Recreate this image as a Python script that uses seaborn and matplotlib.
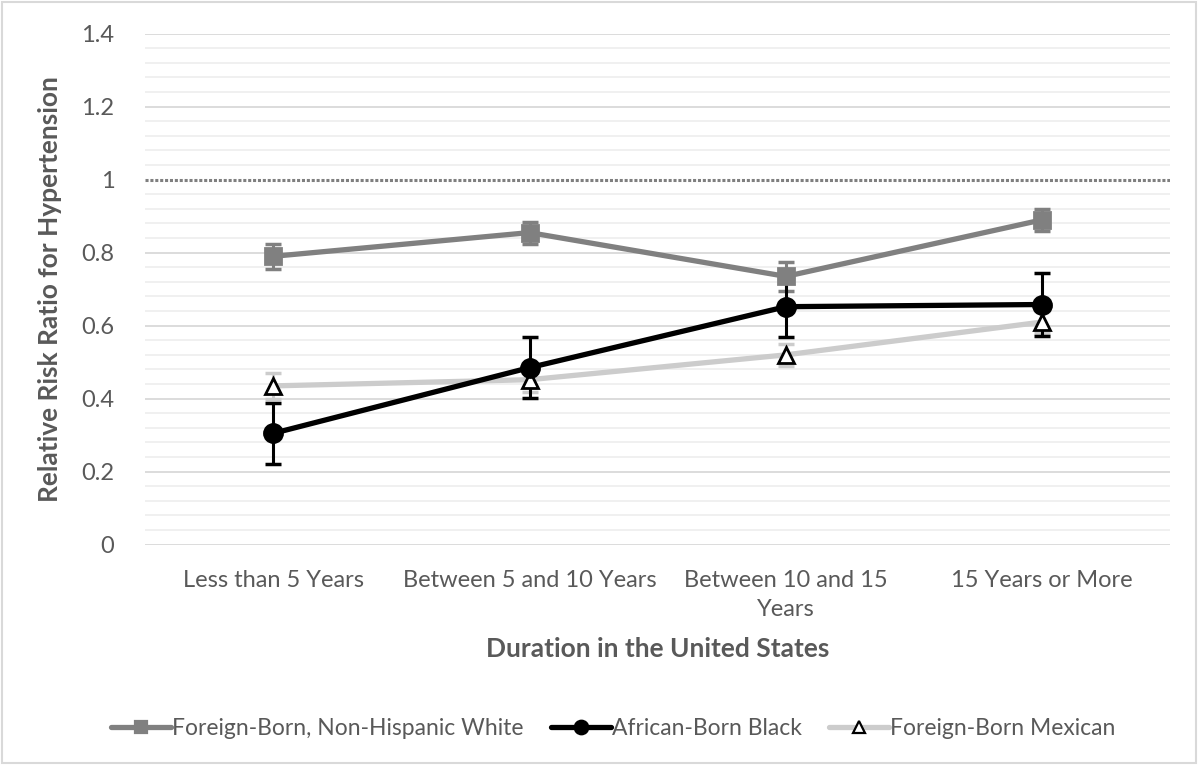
import matplotlib
matplotlib.use("Agg")
import matplotlib.pyplot as plt
import seaborn as sns
import numpy as np
import pandas as pd

categories = ["Less than 5 Years", "Between 5 and 10 Years", "Between 10 and 15\nYears", "15 Years or More"]
white_rr = [0.79, 0.855, 0.735, 0.89]
white_err = [0.035, 0.03, 0.04, 0.03]
black_rr = [0.305, 0.485, 0.652, 0.658]
black_err = [0.083, 0.083, 0.083, 0.085]
mexican_rr = [0.435, 0.452, 0.52, 0.61]
mexican_err = [0.035, 0.035, 0.03, 0.03]
series_names = ["Foreign-Born, Non-Hispanic White", "African-Born Black", "Foreign-Born Mexican"]

sns.set_style("white")
plt.rcParams["font.family"] = ["Lato", "DejaVu Sans"]
txt = "#595959"

fig, ax = plt.subplots(figsize=(11.98, 7.65), dpi=100)
fig.subplots_adjust(left=0.121, right=0.977, top=0.956, bottom=0.288)

# grid
for v in np.arange(0, 1.41, 0.04):
    if abs(v - round(v / 0.2) * 0.2) < 1e-6:
        continue
    ax.axhline(v, color="#efefef", lw=1.3, zorder=0)
for v in np.arange(0, 1.41, 0.2):
    if abs(v - 1.0) < 1e-6:
        ax.axhline(v, color="#7f7f7f", lw=2.2, ls=(0, (1, 0.6)), zorder=1)
    else:
        ax.axhline(v, color="#d9d9d9", lw=1.3, zorder=1)

x = np.arange(len(categories))
df = pd.DataFrame({"x": np.tile(x, 3),
                   "rr": white_rr + black_rr + mexican_rr,
                   "err": white_err + black_err + mexican_err,
                   "group": np.repeat(series_names, len(categories))})

styles = {
    series_names[0]: dict(color="#808080", marker="s", ms=12, mfc="#808080", mec="#808080", ecolor="#808080", z=3),
    series_names[1]: dict(color="#000000", marker="o", ms=13, mfc="#000000", mec="#000000", ecolor="#000000", z=5),
    series_names[2]: dict(color="#cccccc", marker="^", ms=11, mfc="white", mec="#000000", ecolor="#cccccc", z=4),
}

handles = []
for name in series_names:
    st = styles[name]
    sub = df[df.group == name]
    ax.errorbar(sub.x, sub.rr, yerr=sub.err, fmt="none", ecolor=st["ecolor"],
                elinewidth=2.2, capsize=6, capthick=2.5, zorder=st["z"])
    sns.lineplot(x=sub.x, y=sub.rr, ax=ax, color=st["color"], lw=3.8,
                 zorder=st["z"], legend=False)
    ax.plot(sub.x, sub.rr, ls="none", marker=st["marker"], ms=st["ms"],
            mfc=st["mfc"], mec=st["mec"], mew=2, zorder=st["z"] + 3)
    h, = ax.plot([], [], color=st["color"], lw=3.8, marker=st["marker"],
                 ms=st["ms"] * 0.75, mfc=st["mfc"], mec=st["mec"], mew=1.6, label=name)
    handles.append(h)

ax.set_xlim(-0.5, len(categories) - 0.5)
ax.set_ylim(0, 1.4)
ax.set_yticks(np.arange(0, 1.41, 0.2))
ax.set_yticklabels(["0", "0.2", "0.4", "0.6", "0.8", "1", "1.2", "1.4"])
ax.set_xticks(x)
ax.set_xticklabels(categories, linespacing=1.5)
ax.tick_params(axis="both", length=0, labelsize=17, colors=txt, pad=18)
ax.tick_params(axis="y", pad=22)
for s in ax.spines.values():
    s.set_visible(False)

ax.set_xlabel("Duration in the United States", fontsize=19, fontweight="bold", color=txt, labelpad=12)
ax.set_ylabel("Relative Risk Ratio for Hypertension", fontsize=19, fontweight="bold", color=txt, labelpad=14)

fig.legend(handles=handles, loc="center", bbox_to_anchor=(0.512, 0.048), ncol=3,
           frameon=False, fontsize=16.5, labelcolor=txt, handlelength=2.6,
           handletextpad=0.05, columnspacing=1.2)

fig.patches.append(plt.Rectangle((0.002, 0.003), 0.996, 0.994, transform=fig.transFigure,
                                 fill=False, ec="#d9d9d9", lw=1.5))

fig.savefig("out.png", dpi=100)
